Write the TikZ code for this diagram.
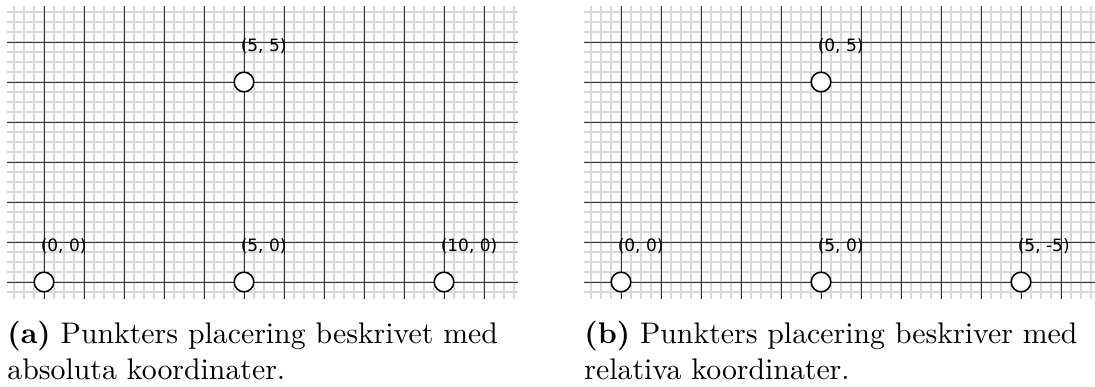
\documentclass[tikz,border=0pt]{standalone}
\usepackage{fontspec}
\newfontfamily\labelfont{DejaVu Sans}
\usetikzlibrary{positioning}

\begin{document}
\begin{tikzpicture}[
        minorgrid/.style={draw=black!15, line width=1.4pt},
        majorgrid/.style={draw=black!80, line width=0.7pt},
        point/.style={draw, circle, fill=white, line width=1.1pt,
            minimum size=0.49cm, inner sep=0pt},
        pointlabel/.style={anchor=base west, inner sep=0pt,
            font=\labelfont\fontsize{12.1}{14}\selectfont},
        caption/.style={anchor=base west, inner sep=0pt,
            font=\fontsize{10}{12}\selectfont},
    ]
    \useasboundingbox (-1.1,-2.625) rectangle (26.275,7.05);

    % (a) absolute coordinates
    \draw[minorgrid, step=0.25] (-0.925,-0.425) grid (11.85,6.9);
    \draw[majorgrid, step=1] (-0.925,-0.425) grid (11.85,6.9);
    \node[point] (a00) at (0,0) {};
    \node[point] (a50) at (5,0) {};
    \node[point] (a100) at (10,0) {};
    \node[point] (a55) at (5,5) {};
    \node[pointlabel] (la00) at ([shift={(-0.0875,0.7575)}]a00.center) {(0, 0)};
    \node[pointlabel] (la50) at ([shift={(-0.0875,0.7575)}]a50.center) {(5, 0)};
    \node[pointlabel] (la100) at ([shift={(-0.0875,0.7575)}]a100.center) {(10, 0)};
    \node[pointlabel] (la55) at ([shift={(-0.0875,0.7575)}]a55.center) {(5, 5)};
    \node[caption] (capa1) at (-0.92,-1.5325)
        {\scalebox{2.12}{\textbf{(a)} Punkters placering beskrivet med}};
    \node[caption, below=0.9cm of capa1.base west, anchor=base west] (capa2)
        {\scalebox{2.12}{absoluta koordinater.}};

    % (b) relative coordinates
    \begin{scope}[xshift=14.425cm]
        \draw[minorgrid, step=0.25] (-0.925,-0.425) grid (11.85,6.9);
        \draw[majorgrid, step=1] (-0.925,-0.425) grid (11.85,6.9);
        \node[point] (b00) at (0,0) {};
        \node[point] (b50) at (5,0) {};
        \node[point] (b5m5) at (10,0) {};
        \node[point] (b05) at (5,5) {};
        \node[pointlabel] (lb00) at ([shift={(-0.0875,0.7575)}]b00.center) {(0, 0)};
        \node[pointlabel] (lb50) at ([shift={(-0.0875,0.7575)}]b50.center) {(5, 0)};
        \node[pointlabel] (lb5m5) at ([shift={(-0.0875,0.7575)}]b5m5.center) {(5, -5)};
        \node[pointlabel] (lb05) at ([shift={(-0.0875,0.7575)}]b05.center) {(0, 5)};
        \node[caption] (capb1) at (-0.92,-1.5325)
            {\scalebox{2.12}{\textbf{(b)} Punkters placering beskriver med}};
        \node[caption, below=0.9cm of capb1.base west, anchor=base west] (capb2)
            {\scalebox{2.12}{relativa koordinater.}};
    \end{scope}
\end{tikzpicture}
\end{document}
